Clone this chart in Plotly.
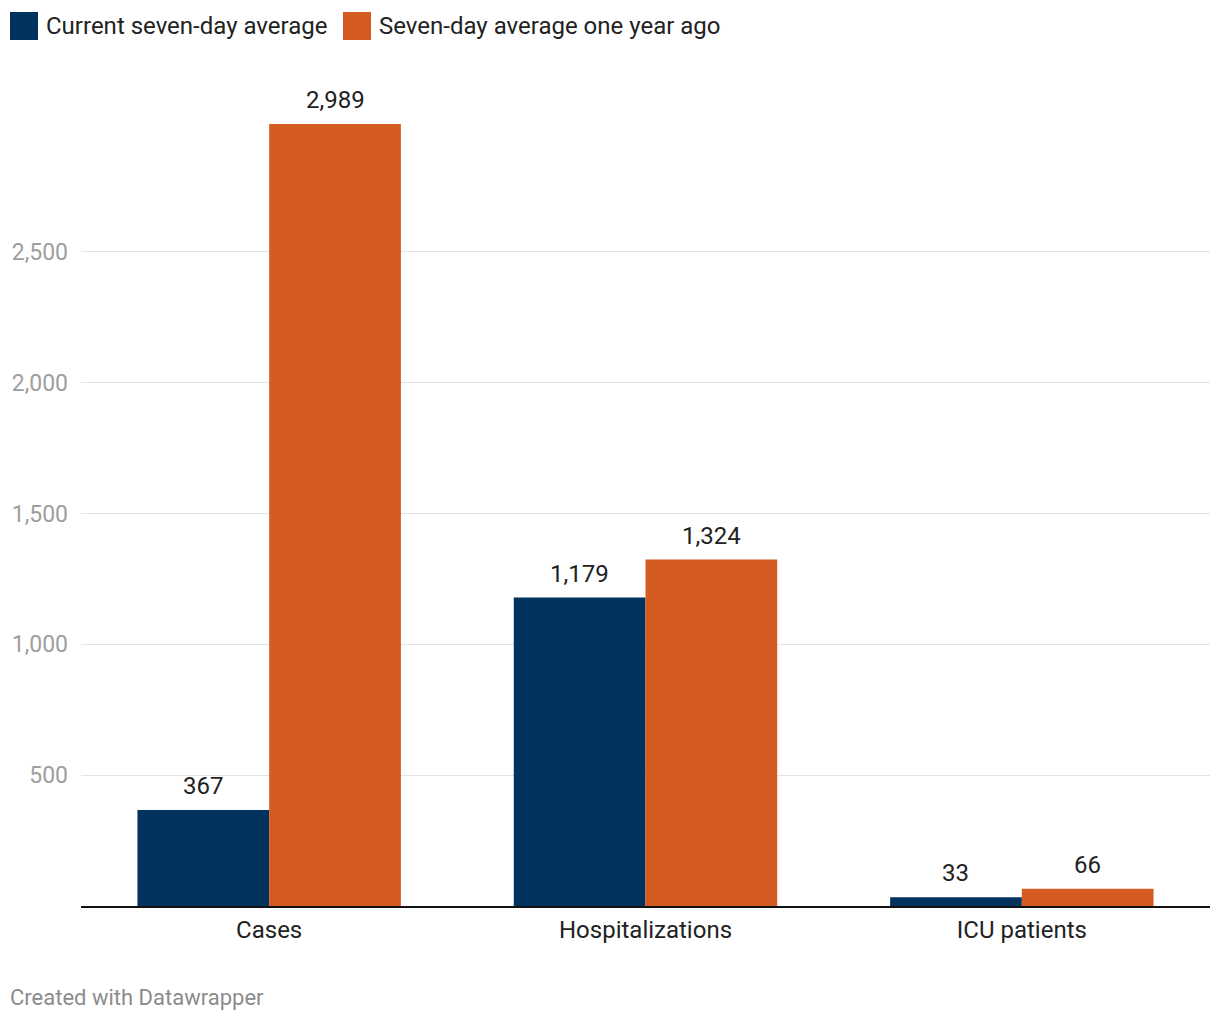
import plotly.graph_objects as go

categories = ["Cases", "Hospitalizations", "ICU patients"]
current_avg = [367, 1179, 33]
year_ago_avg = [2989, 1324, 66]
series_names = ["Current seven-day average", "Seven-day average one year ago"]
tick_values = [500, 1000, 1500, 2000, 2500]
tick_labels = ["500", "1,000", "1,500", "2,000", "2,500"]

NAVY = "#02335f"
ORANGE = "#d45b22"
FONT = "Roboto"

# page body has an 8px margin, so figure coords = reference px - 8
OFF = 8
W, H = 1204, 1004
ML, MR, MT, MB = 73, 2, 113, 106
PW = W - ML - MR
PH = H - MT - MB
BAR_FRAC = 0.35  # each bar's share of one category slot


def px_x(p):
    return (p - OFF - ML) / PW


def px_y(p):
    return (H - MB - (p - OFF)) / PH


fig = go.Figure()
for name, vals, col in [(series_names[0], current_avg, NAVY), (series_names[1], year_ago_avg, ORANGE)]:
    fig.add_trace(go.Bar(
        name=name, x=categories, y=vals, marker=dict(color=col, line=dict(width=0)),
        hovertemplate="%{x}<br>" + name + ": %{y:,}<extra></extra>", showlegend=False,
    ))

slot_px = PW / len(categories)
annotations = []
for vals, sign in [(current_avg, -1), (year_ago_avg, 1)]:
    for c, v in zip(categories, vals):
        annotations.append(dict(x=c, y=v, xref="x", yref="y", text=f"{v:,}", showarrow=False,
                                xanchor="center", yanchor="middle",
                                xshift=sign * slot_px * BAR_FRAC / 2, yshift=24,
                                font=dict(family=FONT, size=24, color="#222222")))

shapes = []
legend_items = [(10, 44, series_names[0], NAVY), (343, 377, series_names[1], ORANGE)]
for sx, tx, label, col in legend_items:
    shapes.append(dict(type="rect", xref="paper", yref="paper",
                       x0=px_x(sx), x1=px_x(sx + 28), y0=px_y(40), y1=px_y(12),
                       fillcolor=col, line=dict(width=0)))
    annotations.append(dict(xref="paper", yref="paper", x=px_x(tx), y=px_y(26),
                            text=label, showarrow=False, xanchor="left", yanchor="middle",
                            font=dict(family=FONT, size=24, color="#222222")))

annotations.append(dict(xref="paper", yref="paper", x=px_x(8), y=px_y(997),
                        text="Created with Datawrapper", showarrow=False,
                        xanchor="left", yanchor="middle",
                        font=dict(family=FONT, size=22, color="#8c8c8c")))

fig.update_layout(
    width=W, height=H,
    margin=dict(l=ML, r=MR, t=MT, b=MB, pad=0),
    paper_bgcolor="white", plot_bgcolor="white",
    barmode="group", bargap=1 - 2 * BAR_FRAC, bargroupgap=0,
    font=dict(family=FONT),
    shapes=shapes, annotations=annotations,
    xaxis=dict(showline=True, linecolor="#111111", linewidth=2, ticks="",
               ticklabelstandoff=1,
               tickfont=dict(family=FONT, size=24, color="#222222"),
               showgrid=False, fixedrange=True),
    yaxis=dict(range=[0, 3000], tickvals=tick_values, ticktext=tick_labels,
               showgrid=True, gridcolor="#e2e2e2", gridwidth=1, zeroline=False,
               ticks="", ticklabelstandoff=12,
               tickfont=dict(family=FONT, size=23, color="#9e9e9e"),
               showline=False, fixedrange=True),
    hovermode="closest",
)

fig.write_html("out.html")
